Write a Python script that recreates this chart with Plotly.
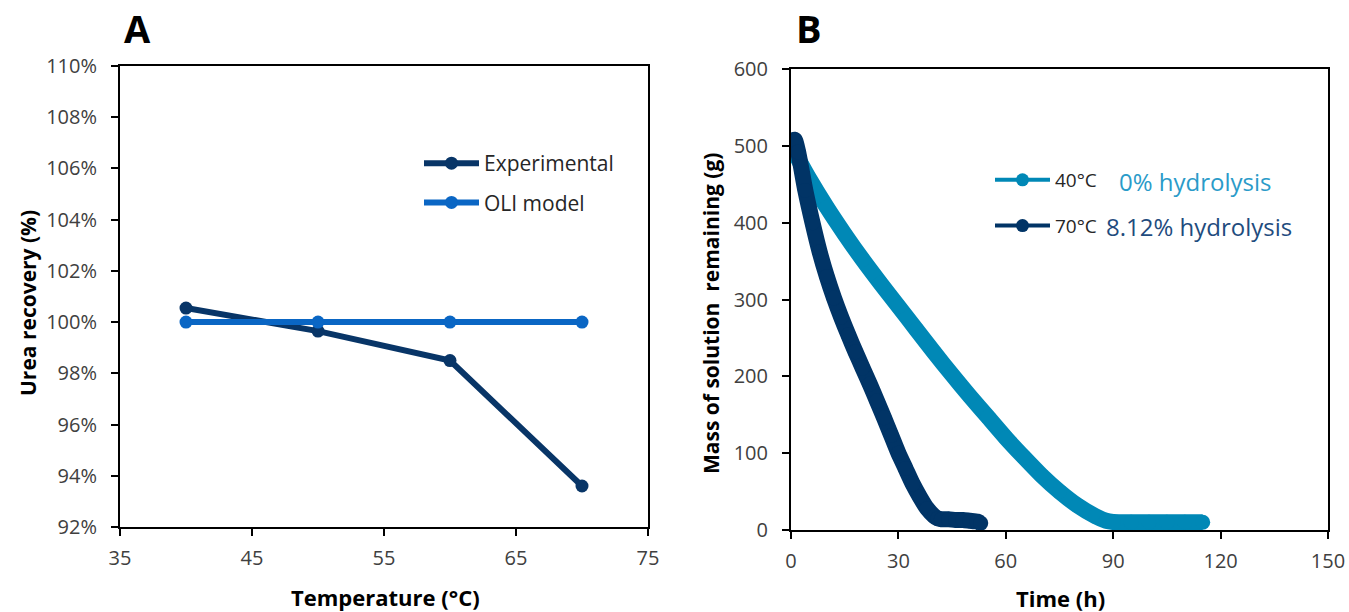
import plotly.graph_objects as go

# ---------------- data ----------------
temp_c = [40, 50, 60, 70]
recovery_experimental = [100.55, 99.65, 98.5, 93.6]
recovery_oli = [100, 100, 100, 100]

time_40 = [0, 5, 10, 15, 20, 25, 30, 35, 40, 45, 50, 55, 60, 65, 70, 75, 80, 85, 88, 90, 95, 100, 105, 110, 115]
mass_40 = [500, 458, 420, 385, 352, 321, 291, 261, 231, 202, 174, 147, 120, 95, 71, 50, 32, 18, 12, 10.5, 10, 10, 10, 10, 10]

time_70 = [0, 1, 2, 4, 6, 8, 10, 12, 14, 16, 18, 20, 22, 24, 26, 28, 30, 32, 34, 36, 38, 40, 41, 42, 44, 46, 48, 50, 52, 53]
mass_70 = [500, 508, 492, 442, 400, 362, 330, 302, 277, 254, 232, 211, 190, 168, 146, 123, 100, 80, 60, 43, 28, 18, 15, 14, 14, 13, 13, 12, 11, 9]

x_ticks_a = [35, 45, 55, 65, 75]
y_ticks_a = [92, 94, 96, 98, 100, 102, 104, 106, 108, 110]
x_ticks_b = [0, 30, 60, 90, 120, 150]
y_ticks_b = [0, 100, 200, 300, 400, 500, 600]

# ---------------- style ----------------
W, H = 1349, 612
FONT = "Open Sans"
C_EXP = "#083567"
C_OLI = "#0a66c4"
C_40 = "#0088b6"
C_70 = "#013466"
C_40_TXT = "#2a9bc9"
C_70_TXT = "#1f4c7e"
TICK_COLOR = "#404040"

def px(x):
    return x / W

def py(y):
    return 1 - y / H

fig = go.Figure()

# Panel A
fig.add_trace(go.Scatter(x=temp_c, y=recovery_experimental, mode="lines+markers", name="Experimental",
                         line=dict(color=C_EXP, width=6), marker=dict(color=C_EXP, size=13),
                         xaxis="x", yaxis="y", legend="legend", legendgroup="exp"))
fig.add_trace(go.Scatter(x=temp_c, y=recovery_oli, mode="lines+markers", name="OLI model",
                         line=dict(color=C_OLI, width=6), marker=dict(color=C_OLI, size=13),
                         xaxis="x", yaxis="y", legend="legend", legendgroup="oli"))

# Panel B (thick data curves)
fig.add_trace(go.Scatter(x=time_40, y=mass_40, mode="lines+markers", name="40°C",
                         line=dict(color=C_40, width=16, shape="spline", smoothing=0.6),
                         marker=dict(color=C_40, size=15),
                         xaxis="x2", yaxis="y2", showlegend=False))
fig.add_trace(go.Scatter(x=time_70, y=mass_70, mode="lines+markers", name="70°C",
                         line=dict(color=C_70, width=16, shape="spline", smoothing=0.6),
                         marker=dict(color=C_70, size=15),
                         xaxis="x2", yaxis="y2", showlegend=False))
# Panel B legend entries
fig.add_trace(go.Scatter(x=[None], y=[None], mode="lines+markers", name="40°C",
                         line=dict(color=C_40, width=4), marker=dict(color=C_40, size=13),
                         xaxis="x2", yaxis="y2", legend="legend2", legendgroup="b40"))
fig.add_trace(go.Scatter(x=[None], y=[None], mode="lines+markers", name="70°C",
                         line=dict(color=C_70, width=4), marker=dict(color=C_70, size=13),
                         xaxis="x2", yaxis="y2", legend="legend2", legendgroup="b70"))

axis_common = dict(showgrid=False, zeroline=False, showline=True, linecolor="black", linewidth=2,
                   mirror=True, ticks="outside", ticklen=7, tickwidth=1.5, tickcolor="black",
                   tickfont=dict(family=FONT, size=20, color=TICK_COLOR), automargin=False)

fig.update_layout(
    width=W, height=H,
    margin=dict(l=0, r=0, t=0, b=0),
    paper_bgcolor="white", plot_bgcolor="white",
    font=dict(family=FONT, color="black"),
    xaxis=dict(domain=[px(120), px(648)], range=[35, 75], tickvals=x_ticks_a,
               ticklabelstandoff=5, anchor="y", **axis_common),
    yaxis=dict(domain=[py(527), py(66)], range=[92, 110], tickvals=y_ticks_a,
               ticktext=[f"{v}%" for v in y_ticks_a], ticklabelstandoff=10, anchor="x", **axis_common),
    xaxis2=dict(domain=[px(791), px(1328)], range=[0, 150], tickvals=x_ticks_b,
                ticklabelstandoff=5, anchor="y2", **axis_common),
    yaxis2=dict(domain=[py(530), py(69)], range=[0, 600], tickvals=y_ticks_b,
                ticklabelstandoff=10, anchor="x2", **axis_common),
    legend=dict(x=px(419), y=py(143), xanchor="left", yanchor="top", bgcolor="rgba(0,0,0,0)",
                font=dict(family=FONT, size=21, color="#262626"), tracegroupgap=9,
                traceorder="grouped", itemwidth=55),
    legend2=dict(x=px(990), y=py(161), xanchor="left", yanchor="top", bgcolor="rgba(0,0,0,0)",
                 font=dict(family=FONT, size=19, color="#262626"), tracegroupgap=18,
                 traceorder="grouped", itemwidth=55),
    showlegend=True,
)

ann = [
    dict(text="<b>A</b>", x=px(137), y=py(28), font=dict(size=38)),
    dict(text="<b>B</b>", x=px(809), y=py(28), font=dict(size=38)),
    dict(text="<b>Temperature (°C)</b>", x=px(385), y=py(597), font=dict(size=22)),
    dict(text="<b>Time (h)</b>", x=px(1060), y=py(598), font=dict(size=22)),
    dict(text="<b>Urea recovery (%)</b>", x=px(28), y=py(303), textangle=-90, font=dict(size=21)),
    dict(text="<b>Mass of solution  remaining (g)</b>", x=px(711), y=py(314), textangle=-90, font=dict(size=21)),
]
for a in ann:
    a.update(xref="paper", yref="paper", showarrow=False, xanchor="center", yanchor="middle")
    a["font"] = dict(family=FONT, color="black", **a["font"])
    fig.add_annotation(**a)

fig.add_annotation(text="0% hydrolysis", x=px(1117), y=py(181), xref="paper", yref="paper",
                   showarrow=False, xanchor="left", yanchor="middle",
                   font=dict(family=FONT, size=24, color=C_40_TXT))
fig.add_annotation(text="8.12% hydrolysis", x=px(1104), y=py(226), xref="paper", yref="paper",
                   showarrow=False, xanchor="left", yanchor="middle",
                   font=dict(family=FONT, size=24, color=C_70_TXT))

fig.write_html("out.html")
